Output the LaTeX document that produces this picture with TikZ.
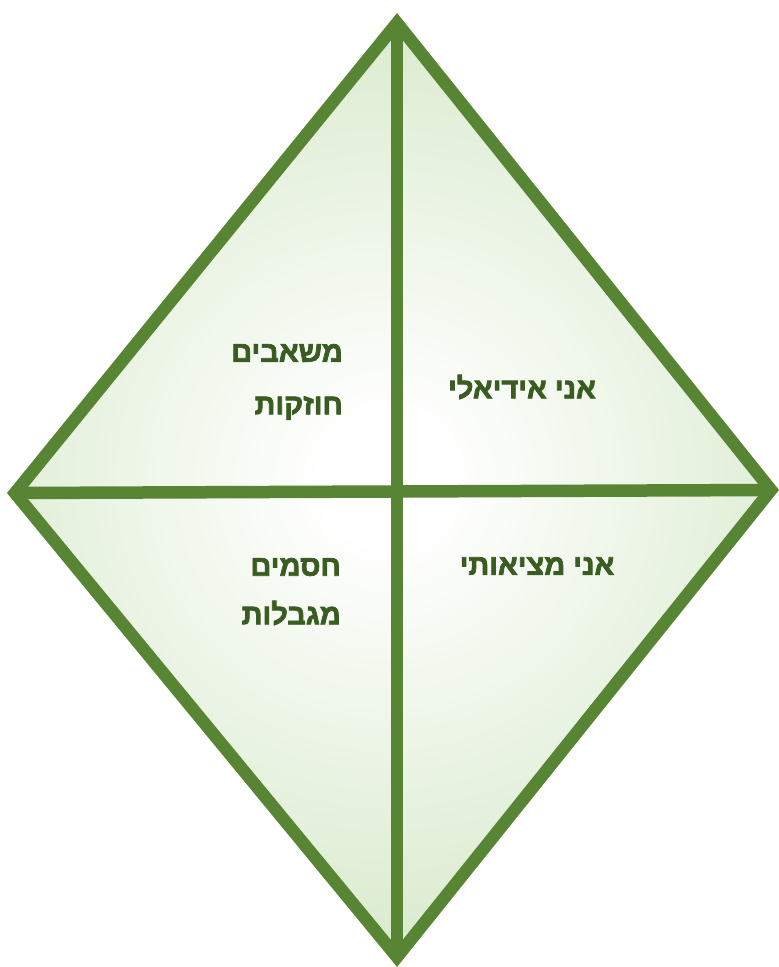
\documentclass[tikz,border=0pt]{standalone}
\usepackage{fontspec}
\newfontfamily\hebfont[Script=Hebrew, FakeBold=2.5]{Liberation Sans}
\TeXXeTstate=1
\definecolor{edge}{HTML}{588534}
\definecolor{txt}{HTML}{3A5C22}
\definecolor{paleg}{HTML}{D3E7C5}
\pgfdeclareradialshading{diamondshade}{\pgfpoint{0bp}{0bp}}{color(0bp)=(white); color(3bp)=(white); color(27bp)=(paleg); color(50bp)=(paleg)}
\tikzset{
  lbl/.style={font=\hebfont\bfseries\fontsize{29}{34}\selectfont, text=txt, inner sep=0pt},
  frame/.style={draw=edge, line width=12.5pt, line join=miter, miter limit=10}
}
\begin{document}
\begin{tikzpicture}[x=1pt,y=-1pt]
\useasboundingbox (0,0) rectangle (779,967);
\coordinate (T) at (397,23);
\coordinate (L) at (15,493);
\coordinate (R) at (771,490);
\coordinate (B) at (397,957);
\coordinate (C) at (399,492);
\begin{scope}
\clip (T) -- (R) -- (B) -- (L) -- cycle;
\shade[shading=diamondshade] (385,480) circle (500);
\end{scope}
\draw[frame] (T) -- (R) -- (B) -- (L) -- cycle;
\draw[frame] (T) -- (B);
\draw[frame] (L) -- (R);
\node[lbl, anchor=east] (a1) at (343,353) {\beginR משאבים\endR};
\node[lbl, anchor=east] (a2) at (343,408) {\beginR חוזקות\endR};
\node[lbl] (b) at (522,387) {\beginR אני אידיאלי\endR};
\node[lbl, anchor=east] (c1) at (341,567) {\beginR חסמים\endR};
\node[lbl, anchor=east] (c2) at (341,613) {\beginR מגבלות\endR};
\node[lbl] (d) at (537,566) {\beginR אני מציאותי\endR};
\end{tikzpicture}
\end{document}
